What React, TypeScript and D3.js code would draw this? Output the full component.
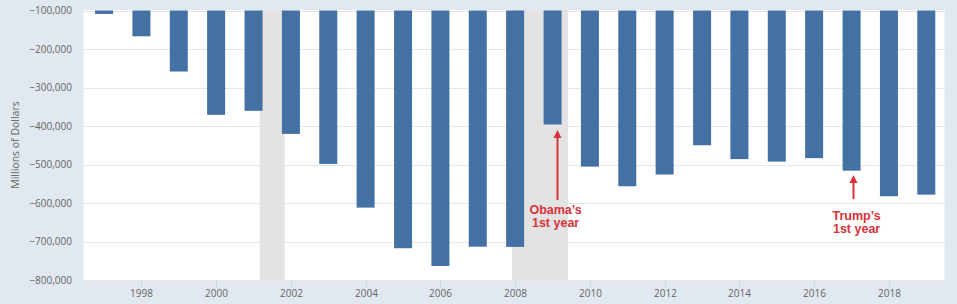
import React from "react";
import * as d3 from "d3";

const years = [1997, 1998, 1999, 2000, 2001, 2002, 2003, 2004, 2005, 2006, 2007, 2008, 2009, 2010, 2011, 2012, 2013, 2014, 2015, 2016, 2017, 2018, 2019];
const balances = [-109000, -167000, -258500, -371000, -360500, -420500, -498500, -612000, -717500, -763500, -713500, -714000, -396000, -505500, -556500, -526000, -450000, -486000, -492500, -483500, -516000, -582500, -578300];
const yTicks = [-100000, -200000, -300000, -400000, -500000, -600000, -700000, -800000];
const xTickYears = [1998, 2000, 2002, 2004, 2006, 2008, 2010, 2012, 2014, 2016, 2018];
const recessions: [Date, Date][] = [
  [new Date(2001, 2, 1), new Date(2001, 10, 1)],
  [new Date(2007, 11, 1), new Date(2009, 5, 1)],
];
const annotations = [
  { year: 2009, lines: ["Obama\u2019s", "1st year"], tipY: 130, tailY: 200, textY: 214, arrowDx: 4.5, textDx: 3 },
  { year: 2017, lines: ["Trump\u2019s", "1st year"], tipY: 175, tailY: 199, textY: 220, arrowDx: 1, textDx: 5 },
];

const W = 957;
const H = 304;
const plotLeft = 83.5;
const plotRight = 944.5;
const plotTop = 10;
const plotBottom = 280;

export default function App() {
  const x = d3
    .scaleTime()
    .domain([new Date(1996, 5, 14), new Date(2019, 5, 28)])
    .range([plotLeft, plotRight]);
  const y = d3.scaleLinear().domain([-100000, -800000]).range([plotTop + 0.5, plotBottom]);
  const barW = 18;
  const fmt = d3.format(",");
  const font = "'Open Sans', 'Noto Sans', sans-serif";
  const red = "#d9323a";

  return (
    <svg width={W} height={H} style={{ position: "absolute", left: 0, top: 0, display: "block" }}>
      <rect x={0} y={0} width={W} height={H} fill="#e1e8ef" />
      <rect x={plotLeft} y={plotTop} width={plotRight - plotLeft} height={plotBottom - plotTop} fill="#ffffff" />
      {yTicks.map((t) => (
        <line key={"g" + t} x1={plotLeft} x2={plotRight} y1={Math.round(y(t)) + 0.5} y2={Math.round(y(t)) + 0.5} stroke="#e6e6e6" strokeWidth={1} />
      ))}
      {recessions.map(([a, b], i) => (
        <rect key={"r" + i} x={x(a)} y={plotTop} width={x(b) - x(a)} height={plotBottom - plotTop} fill="#e3e3e3" />
      ))}
      {years.map((yr, i) => {
        const cx = x(new Date(yr, 0, 1));
        return (
          <rect key={"b" + yr} x={cx - barW / 2} y={y(-100000)} width={barW} height={y(balances[i]) - y(-100000)} fill="#4371a3" />
        );
      })}
      {xTickYears.map((yr) => {
        const cx = Math.round(x(new Date(yr, 0, 1))) + 0.5;
        return (
          <g key={"xt" + yr}>
            <line x1={cx} x2={cx} y1={plotBottom} y2={plotBottom + 7} stroke="#ccd6eb" strokeWidth={1} />
            <text x={cx} y={296.5} textAnchor="middle" fontSize={10} fontFamily={font} fill="#666666">
              {yr}
            </text>
          </g>
        );
      })}
      {yTicks.map((t) => (
        <text key={"yt" + t} x={72} y={y(t) + 3.5} textAnchor="end" fontSize={10} fontFamily={font} fill="#666666">
          {fmt(t)}
        </text>
      ))}
      <text
        transform={`translate(19, ${(plotTop + plotBottom) / 2}) rotate(-90)`}
        textAnchor="middle"
        fontSize={10.5}
        fontFamily={font}
        fill="#666666"
      >
        Millions of Dollars
      </text>
      {annotations.map((a) => {
        const bx = x(new Date(a.year, 0, 1));
        const ax = Math.round(bx + a.arrowDx) + 0.5;
        return (
          <g key={"a" + a.year}>
            <line x1={ax} x2={ax} y1={a.tailY} y2={a.tipY + 6} stroke={red} strokeWidth={2} />
            <path d={`M${ax},${a.tipY} L${ax - 4},${a.tipY + 8} L${ax + 4},${a.tipY + 8} Z`} fill={red} />
            {a.lines.map((l, j) => (
              <text
                key={j}
                x={bx + a.textDx}
                y={a.textY + j * 13}
                textAnchor="middle"
                fontSize={12.5}
                fontWeight="bold"
                fontFamily="'Liberation Sans', Arial, sans-serif"
                fill={red}
              >
                {l}
              </text>
            ))}
          </g>
        );
      })}
    </svg>
  );
}
